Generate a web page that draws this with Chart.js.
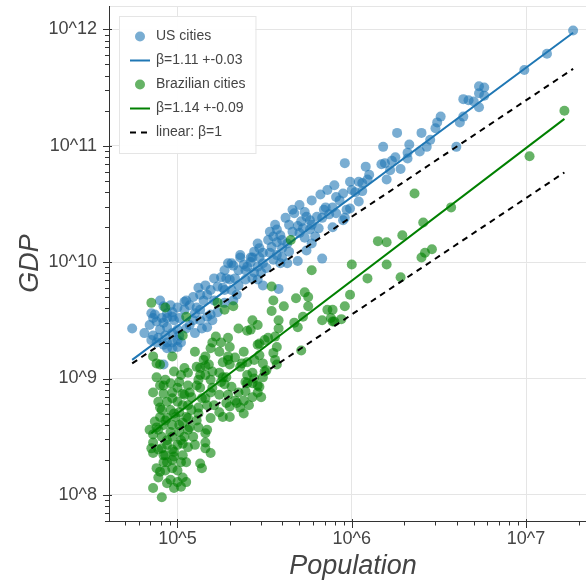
<!DOCTYPE html>
<html lang="en">
<head>
  <meta charset="UTF-8" />
  <title>GDP vs Population</title>
  <script src="https://cdn.jsdelivr.net/npm/chart.js"></script>
  <style>
    html, body { margin: 0; padding: 0; background: #fff; overflow: hidden; }
  </style>
</head>
<body>
<!-- the plot runs a little past the right edge of the window, like the original -->
<canvas id="mainChart" width="597" height="588"></canvas>

<script>
  // values are log10(population) / log10(GDP)
  const usLogPop = [
    7.27,7.12,6.99,6.73,6.76,6.73,6.76,6.70,6.73,6.64,
    6.67,6.64,6.62,6.51,6.49,6.48,6.60,6.26,6.40,6.45,
    6.43,6.39,6.33,6.32,6.32,6.18,6.17,6.19,6.23,6.25,
    6.22,6.28,6.20,5.96,6.08,6.10,6.09,6.06,6.04,5.99,
    6.00,6.02,6.06,6.04,5.99,5.95,5.91,5.93,5.89,5.91,
    5.96,5.95,5.89,5.97,5.85,5.87,5.83,5.80,5.84,5.67,
    5.73,5.74,5.71,5.76,5.77,5.72,5.69,5.64,5.66,5.70,
    5.76,5.79,5.73,5.77,5.74,5.57,5.55,5.59,5.60,5.57,
    5.54,5.60,5.63,5.64,5.60,5.57,5.53,5.49,5.46,5.44,
    5.47,5.43,5.42,5.38,5.36,5.40,5.46,5.49,5.55,5.59,
    5.63,5.69,5.51,5.83,5.31,5.49,5.58,5.48,5.43,5.46,
    5.36,5.29,5.27,5.32,5.35,5.28,5.25,5.33,5.35,5.31,
    5.26,5.23,5.19,5.17,5.12,5.13,5.15,5.09,5.05,5.04,
    5.07,5.11,5.10,5.09,5.13,5.17,5.19,5.20,5.17,5.14,
    5.23,5.27,5.32,5.34,5.00,4.97,4.97,4.94,5.01,4.98,
    4.92,4.94,4.91,4.87,4.85,4.86,4.88,4.92,4.94,4.90,
    4.89,4.86,4.85,4.88,4.92,4.94,4.97,5.00,5.02,5.01,
    4.97,5.05,5.10,4.74,5.00,4.97,4.94,4.92,
    4.90,4.96,5.04,5.13,5.21,5.27,5.30,5.39,5.42,5.47,
    5.52,5.56,5.62,5.66,5.70,5.77,5.82,5.86,5.90,5.07,
    5.00,4.93,4.84,4.81,5.16,5.21,5.39,5.44,5.53,5.81
  ];
  const usLogGdp = [
    11.99,11.79,11.65,11.51,11.50,11.45,11.43,11.38,11.33,11.40,
    11.39,11.25,11.20,11.25,11.20,11.15,10.99,11.11,11.11,11.05,
    10.99,10.95,11.01,10.94,10.89,10.99,10.84,10.85,10.87,10.90,
    10.79,10.80,10.71,10.85,10.82,10.75,10.71,10.68,10.69,10.69,
    10.62,10.60,10.61,10.52,10.46,10.59,10.56,10.53,10.47,10.42,
    10.38,10.36,10.30,10.45,10.47,10.41,10.38,10.39,10.45,10.42,
    10.43,10.39,10.35,10.36,10.32,10.29,10.31,10.32,10.26,10.25,
    10.28,10.22,10.21,10.16,10.10,10.28,10.22,10.23,10.19,10.17,
    10.13,10.12,10.16,10.09,10.04,10.06,10.08,10.08,10.16,10.09,
    10.04,10.04,10.04,9.98,10.04,9.96,9.96,9.99,10.02,9.99,
    9.99,10.01,9.95,10.03,9.99,9.80,9.77,9.91,9.86,9.85,
    10.06,9.99,9.93,9.97,9.93,9.86,9.87,9.86,9.80,9.76,
    9.78,9.79,9.76,9.72,9.78,9.72,9.67,9.70,9.67,9.66,
    9.63,9.61,9.56,9.50,9.50,9.53,9.55,9.50,9.44,9.43,
    9.57,9.65,9.67,9.72,9.61,9.57,9.53,9.52,9.52,9.50,
    9.62,9.56,9.52,9.55,9.56,9.52,9.49,9.48,9.44,9.42,
    9.35,9.37,9.33,9.31,9.29,9.31,9.31,9.33,9.31,9.37,
    9.39,9.43,9.39,9.43,9.27,9.26,9.26,9.12,
    9.67,9.63,9.59,9.59,9.67,9.76,9.85,9.93,10.00,10.12,
    10.19,10.32,10.38,10.45,10.49,10.53,10.58,10.62,10.66,9.46,
    9.42,9.37,9.46,9.39,9.80,9.86,9.85,9.91,10.26,10.29
  ];
  const brLogPop = [
    7.22,7.02,6.36,6.57,6.41,6.29,6.15,6.20,6.00,6.20,
    6.09,6.28,6.40,6.42,6.46,5.99,5.96,5.89,5.89,5.94,
    5.65,5.77,5.54,5.55,5.61,5.68,5.73,5.75,5.75,5.54,
    5.58,5.58,5.72,5.67,5.69,5.83,5.86,5.88,5.90,5.43,
    5.46,5.42,5.52,5.50,5.47,5.46,5.56,5.57,5.55,5.56,
    5.47,5.49,5.44,5.50,5.71,5.43,5.46,5.46,5.48,5.43,
    4.85,4.93,5.05,5.03,5.23,5.27,5.32,5.10,5.19,5.22,
    5.25,5.29,5.24,5.29,5.35,4.97,4.86,5.16,5.40,5.20,
    5.30,5.15,5.18,5.26,5.30,5.37,4.90,4.88,5.29,5.04,
    5.06,5.13,5.16,5.20,5.26,5.33,5.38,4.88,5.11,5.16,
    5.24,5.28,5.36,5.40,5.40,5.39,5.44,4.98,4.90,4.96,
    5.01,5.06,5.12,5.13,5.20,5.25,5.31,5.35,5.29,5.24,
    5.19,4.86,4.92,4.97,5.03,5.08,5.14,5.38,5.43,4.89,
    4.94,5.00,5.06,5.12,5.17,5.28,5.30,5.36,5.38,4.91,
    4.96,5.01,4.90,4.94,4.99,5.05,5.12,5.19,5.26,5.30,
    4.87,4.92,4.97,5.03,5.12,4.89,4.96,5.01,5.06,4.86,
    4.91,4.97,5.04,5.09,5.16,5.16,4.86,4.94,5.00,4.91,
    5.06,4.97,5.16,5.19,4.86,4.92,4.98,5.03,4.92,4.97,
    5.13,5.14,4.88,4.93,4.97,4.89,5.03,4.86,4.94,4.98,
    5.02,4.91,5.00,5.05,5.51,5.57,5.49,5.47,5.40,5.34,
    5.17,5.03,5.02,
    4.93,5.00,5.07,4.97,5.03,4.90,4.98,5.08,4.93,5.01,
    4.88,5.07,4.94,5.02,4.89,4.98,5.10,4.94,5.05,4.90,
    5.00,4.96,5.04,5.11,5.16,5.21,5.24,5.33,4.84,4.85,
    5.06,5.11,4.92,5.02,5.13,5.19,5.27,5.39,5.41,4.93
  ];
  const brLogGdp = [
    11.30,10.91,10.59,10.47,10.34,10.23,10.18,10.17,9.98,9.98,
    9.86,9.87,10.04,10.08,10.11,9.72,9.62,9.59,9.49,9.51,
    10.19,9.93,9.79,9.67,9.62,9.69,9.74,9.70,9.62,9.58,
    9.50,9.43,9.53,9.48,9.44,9.50,9.59,9.52,9.49,9.50,
    9.46,9.42,9.35,9.33,9.30,9.29,9.36,9.27,9.22,9.16,
    9.20,9.13,9.16,9.06,9.24,8.96,8.94,8.88,8.84,9.05,
    9.65,9.61,9.53,9.37,9.65,9.59,9.62,9.23,9.26,9.36,
    9.31,9.35,9.23,9.19,9.43,9.19,9.19,9.19,9.41,9.31,
    9.27,9.16,9.12,9.14,9.12,9.13,9.12,9.01,9.16,9.09,
    9.05,9.09,9.03,9.06,9.01,9.18,9.23,9.13,9.10,9.11,
    9.05,9.01,9.10,9.14,9.03,8.97,9.00,9.06,8.94,8.96,
    8.97,8.94,8.99,8.92,8.92,8.97,8.93,8.88,8.86,8.86,
    8.88,8.88,8.87,8.88,8.87,8.84,8.83,8.81,8.84,8.80,
    8.80,8.80,8.77,8.75,8.77,8.79,8.76,8.75,8.70,8.73,
    8.73,8.71,8.67,8.66,8.67,8.67,8.70,8.66,8.67,8.67,
    8.63,8.60,8.60,8.62,8.58,8.56,8.54,8.54,8.56,8.52,
    8.50,8.50,8.50,8.50,8.53,8.45,8.45,8.43,8.43,8.40,
    8.41,8.39,8.40,8.36,8.36,8.34,8.33,8.34,8.28,8.30,
    8.27,8.23,8.23,8.21,8.23,8.15,8.15,8.06,8.10,8.06,
    8.07,7.98,8.11,8.11,9.07,9.12,9.01,8.93,8.96,8.79,
    8.56,8.44,8.28,
    8.99,8.92,8.88,8.83,8.77,8.75,8.70,8.73,8.64,8.60,
    8.58,8.58,8.47,8.47,8.39,8.37,8.43,8.28,8.28,8.20,
    8.21,8.13,8.86,8.94,8.83,8.77,8.71,8.81,8.56,8.40,
    8.66,8.64,8.94,9.03,9.03,8.99,8.95,8.89,8.77,8.34
  ];

  // fitted and linear reference lines (end points)
  const usLineLogPop = [4.74, 7.27];
  const usFitLogGdp = [9.16, 11.97];
  const usLinLogGdp = [9.13, 11.66];
  const brLineLogPop = [4.85, 7.22];
  const brFitLogGdp = [8.53, 11.23];
  const brLinLogGdp = [8.40, 10.77];

  const xLimLog = [4.607, 7.407];
  const yLimLog = [7.776, 12.2];

  const fontFamily = '"Liberation Sans", Arial, Helvetica, sans-serif';

  function toPoints(lx, ly) {
    return lx.map((v, i) => ({ x: Math.pow(10, v), y: Math.pow(10, ly[i]) }));
  }

  function isPow10(v) {
    const l = Math.log10(v);
    return Math.abs(l - Math.round(l)) < 1e-6;
  }

  const powLabel = v => isPow10(v) ? '10^' + Math.round(Math.log10(v)) : '';
  const gridColor = c => (c.tick && isPow10(c.tick.value)) ? '#e5e5e5' : 'rgba(0,0,0,0)';

  function noPadding(s) {
    s.paddingTop = 0;
    s.paddingBottom = 0;
    s.paddingLeft = 0;
    s.paddingRight = 0;
  }

  // frame, axis lines and major/minor tick marks
  const axisDecor = {
    id: 'axisDecor',
    beforeDatasetsDraw(chart) {
      const { ctx, chartArea: a } = chart;
      ctx.save();
      ctx.strokeStyle = '#e5e5e5';
      ctx.lineWidth = 1;
      ctx.strokeRect(a.left + 0.5, a.top + 0.5, a.right - a.left - 1, a.bottom - a.top);
      ctx.restore();
    },
    afterDatasetsDraw(chart) {
      const { ctx, chartArea: a, scales } = chart;
      ctx.save();
      ctx.strokeStyle = '#333';
      ctx.lineWidth = 1;
      ctx.beginPath();
      ctx.moveTo(a.left + 0.5, a.top);
      ctx.lineTo(a.left + 0.5, a.bottom + 0.5);
      ctx.lineTo(a.right, a.bottom + 0.5);

      const sx = scales.x, sy = scales.y;
      for (let e = Math.floor(Math.log10(sx.min)); e <= Math.ceil(Math.log10(sx.max)); e++) {
        for (let k = 1; k <= 9; k++) {
          const v = k * Math.pow(10, e);
          if (v < sx.min || v > sx.max) continue;
          const px = Math.round(sx.getPixelForValue(v)) + 0.5;
          ctx.moveTo(px, a.bottom - (k === 1 ? 2 : 0));
          ctx.lineTo(px, a.bottom + (k === 1 ? 7 : 4.5));
        }
      }
      for (let e = Math.floor(Math.log10(sy.min)); e <= Math.ceil(Math.log10(sy.max)); e++) {
        for (let k = 1; k <= 9; k++) {
          const v = k * Math.pow(10, e);
          if (v < sy.min || v > sy.max) continue;
          const py = Math.round(sy.getPixelForValue(v)) + 0.5;
          ctx.moveTo(a.left - (k === 1 ? 6 : 4), py);
          ctx.lineTo(a.left + (k === 1 ? 3 : 1), py);
        }
      }
      ctx.stroke();
      ctx.restore();
    }
  };

  // legend box inside the plot, top left
  const legendBox = {
    id: 'legendBox',
    afterDraw(chart) {
      const { ctx, chartArea: a } = chart;
      const items = chart.data.datasets
        .filter(d => d.legendRank !== undefined)
        .sort((p, q) => p.legendRank - q.legendRank);
      ctx.save();
      ctx.font = '14px ' + fontFamily;
      const labelW = Math.max(...items.map(d => ctx.measureText(d.label).width));
      const pad = 10, glyphW = 20, standoff = 7, rowH = 21, gap = 3;
      const bx = a.left + 10, by = a.top + 10;
      const bw = pad + glyphW + standoff + labelW + pad;
      const bh = pad * 2 + items.length * rowH + (items.length - 1) * gap;
      ctx.fillStyle = 'rgba(255,255,255,0.95)';
      ctx.fillRect(bx, by, bw, bh);
      ctx.strokeStyle = '#e5e5e5';
      ctx.lineWidth = 1;
      ctx.strokeRect(bx + 0.5, by + 0.5, bw, bh);

      items.forEach((d, i) => {
        const cy = by + pad + i * (rowH + gap) + rowH / 2;
        const gx = bx + pad;
        if (d.showLine) {
          ctx.beginPath();
          ctx.setLineDash(d.borderDash || []);
          ctx.strokeStyle = d.borderColor;
          ctx.lineWidth = d.borderWidth;
          ctx.moveTo(gx + 1, cy);
          ctx.lineTo(gx + glyphW + 1, cy);
          ctx.stroke();
          ctx.setLineDash([]);
        } else {
          ctx.beginPath();
          ctx.fillStyle = d.backgroundColor;
          ctx.arc(gx + glyphW / 2 + 1, cy, d.pointRadius, 0, Math.PI * 2);
          ctx.fill();
        }
        ctx.fillStyle = '#444';
        ctx.textBaseline = 'middle';
        ctx.textAlign = 'left';
        ctx.fillText(d.label, gx + glyphW + standoff, cy);
      });
      ctx.restore();
    }
  };

  const blue = '#1f77b4';
  const green = '#008000';

  new Chart(document.getElementById('mainChart'), {
    type: 'scatter',
    data: {
      datasets: [
        {
          label: 'US cities', legendRank: 0, order: 5,
          data: toPoints(usLogPop, usLogGdp),
          pointRadius: 5, borderWidth: 0, backgroundColor: 'rgba(31,119,180,0.6)'
        },
        {
          label: 'β=1.11 +-0.03', legendRank: 1, order: 4,
          data: toPoints(usLineLogPop, usFitLogGdp),
          showLine: true, pointRadius: 0, borderColor: blue, borderWidth: 2
        },
        {
          label: 'Brazilian cities', legendRank: 2, order: 3,
          data: toPoints(brLogPop, brLogGdp),
          pointRadius: 5, borderWidth: 0, backgroundColor: 'rgba(0,128,0,0.6)'
        },
        {
          label: 'β=1.14 +-0.09', legendRank: 3, order: 2,
          data: toPoints(brLineLogPop, brFitLogGdp),
          showLine: true, pointRadius: 0, borderColor: green, borderWidth: 2
        },
        {
          label: 'linear: β=1', legendRank: 4, order: 1,
          data: toPoints(usLineLogPop, usLinLogGdp),
          showLine: true, pointRadius: 0, borderColor: '#000', borderWidth: 2, borderDash: [6, 5]
        },
        {
          label: 'linear: β=1', order: 0,
          data: toPoints(brLineLogPop, brLinLogGdp),
          showLine: true, pointRadius: 0, borderColor: '#000', borderWidth: 2, borderDash: [6, 5]
        }
      ]
    },
    options: {
      responsive: false,
      animation: false,
      events: [],
      layout: { autoPadding: false, padding: { top: 6, right: 0, left: 0, bottom: 0 } },
      plugins: { legend: { display: false }, tooltip: { enabled: false } },
      scales: {
        x: {
          type: 'logarithmic',
          min: Math.pow(10, xLimLog[0]),
          max: Math.pow(10, xLimLog[1]),
          afterFit: s => { s.height = 67; noPadding(s); },
          border: { display: false },
          grid: { color: gridColor, lineWidth: 1, drawTicks: true, tickLength: 6, tickColor: 'rgba(0,0,0,0)' },
          ticks: { autoSkip: false, maxRotation: 0, padding: 1, color: '#444', font: { family: fontFamily, size: 18 }, callback: powLabel },
          title: { display: true, text: 'Population', color: '#444', font: { family: fontFamily, size: 27, style: 'italic' }, padding: { top: 0, bottom: 5 } }
        },
        y: {
          type: 'logarithmic',
          min: Math.pow(10, yLimLog[0]),
          max: Math.pow(10, yLimLog[1]),
          afterFit: s => { s.width = 109; noPadding(s); },
          border: { display: false },
          grid: { color: gridColor, lineWidth: 1, drawTicks: true, tickLength: 8, tickColor: 'rgba(0,0,0,0)' },
          ticks: { autoSkip: false, padding: 4, color: '#444', font: { family: fontFamily, size: 18 }, callback: powLabel },
          title: { display: true, text: 'GDP', color: '#444', font: { family: fontFamily, size: 27, style: 'italic' }, padding: { top: 14, bottom: 0 } }
        }
      }
    },
    plugins: [axisDecor, legendBox]
  });
</script>

</body>
</html>
